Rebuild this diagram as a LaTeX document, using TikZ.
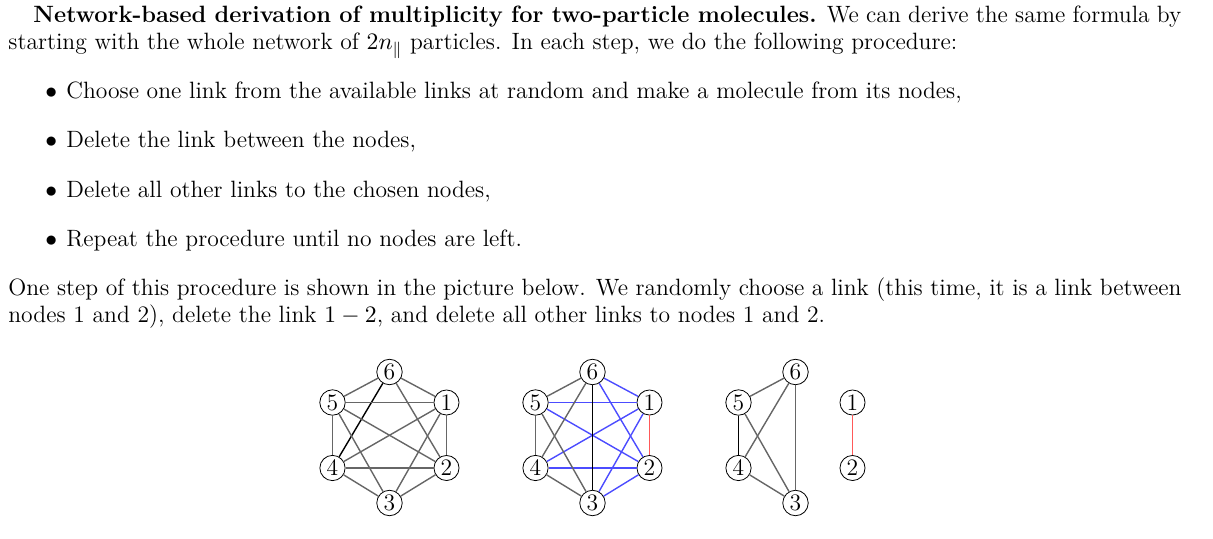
\documentclass[11pt,tikz,border=0pt]{standalone}
\usepackage{fix-cm}
\usepackage{amsmath}
\usepackage{tikz}

\begin{document}
\begin{tikzpicture}[x=0.5pt,y=-0.5pt,font=\fontsize{11.8}{13.5}\selectfont]
\useasboundingbox (0,0) rectangle (1213,539);
% text of the page
\begin{scope}[every node/.style={anchor=base west,inner sep=0pt}]
    \node[text width=586.5pt,align=justify] (intro) at (8,23)
        {\hspace*{12.5pt}\textbf{Network-based derivation of multiplicity for two-particle molecules.} We can derive the same formula by\linebreak starting with the whole network of $2n_{\parallel}$ particles. In each step, we do the following procedure:};
    \node (choose) at (45,99) {\makebox[10.5pt][l]{$\bullet$}Choose one link from the available links at random and make a molecule from its nodes,};
    \node (dellink) at (45,148) {\makebox[10.5pt][l]{$\bullet$}Delete the link between the nodes,};
    \node (delother) at (45,198) {\makebox[10.5pt][l]{$\bullet$}Delete all other links to the chosen nodes,};
    \node (repeat) at (45,247) {\makebox[10.5pt][l]{$\bullet$}Repeat the procedure until no nodes are left.};
    \node[text width=586.5pt,align=justify] (onestep) at (8,295)
        {One step of this procedure is shown in the picture below. We randomly choose a link (this time, it is a link between\linebreak nodes 1 and 2), delete the link $1-2$, and delete all other links to nodes 1 and 2.};
\end{scope}
% the three networks
\begin{scope}[every node/.style={circle,draw,inner sep=1pt,minimum size=10.5pt}]
    \node (a6) at (389.5,372) {6};
    \node (a5) at (332.5,402.5) {5};
    \node (a1) at (446.5,402.5) {1};
    \node (a4) at (332.5,468) {4};
    \node (a2) at (446.5,468) {2};
    \node (a3) at (389.5,503) {3};
    \node (b6) at (592.5,372) {6};
    \node (b5) at (535.5,402.5) {5};
    \node (b1) at (649.5,402.5) {1};
    \node (b4) at (535.5,468) {4};
    \node (b2) at (649.5,468) {2};
    \node (b3) at (592.5,503) {3};
    \node (c6) at (795.5,372) {6};
    \node (c5) at (738.5,402.5) {5};
    \node (c1) at (852.5,402.5) {1};
    \node (c4) at (738.5,468) {4};
    \node (c2) at (852.5,468) {2};
    \node (c3) at (795.5,503) {3};
\end{scope}
\begin{scope}[line width=0.7pt,
              grey_edge/.style={draw=black!60},
              black_edge/.style={draw=black},
              blue_edge/.style={draw=blue!70},
              red_edge/.style={draw=red!65}]
    % whole network
    \path (a6) edge [grey_edge] (a5);
    \path (a6) edge [grey_edge] (a1);
    \path (a6) edge [grey_edge] (a2);
    \path (a6) edge [black_edge] (a4);
    \path (a5) edge [grey_edge] (a1);
    \path (a5) edge [grey_edge] (a4);
    \path (a5) edge [grey_edge] (a2);
    \path (a5) edge [grey_edge] (a3);
    \path (a1) edge [grey_edge] (a2);
    \path (a1) edge [grey_edge] (a4);
    \path (a1) edge [grey_edge] (a3);
    \path (a4) edge [grey_edge] (a2);
    \path (a4) edge [grey_edge] (a3);
    \path (a2) edge [grey_edge] (a3);
    % chosen link and the links to delete
    \path (b1) edge [red_edge] (b2);
    \path (b6) edge [blue_edge] (b1);
    \path (b6) edge [blue_edge] (b2);
    \path (b5) edge [blue_edge] (b1);
    \path (b5) edge [blue_edge] (b2);
    \path (b1) edge [blue_edge] (b4);
    \path (b1) edge [blue_edge] (b3);
    \path (b4) edge [blue_edge] (b2);
    \path (b2) edge [blue_edge] (b3);
    \path (b6) edge [black_edge] (b3);
    \path (b6) edge [grey_edge] (b5);
    \path (b6) edge [grey_edge] (b4);
    \path (b5) edge [grey_edge] (b4);
    \path (b5) edge [grey_edge] (b3);
    \path (b4) edge [grey_edge] (b3);
    % after one step
    \path (c6) edge [grey_edge] (c5);
    \path (c6) edge [grey_edge] (c4);
    \path (c6) edge [grey_edge] (c3);
    \path (c5) edge [black_edge] (c4);
    \path (c5) edge [grey_edge] (c3);
    \path (c4) edge [grey_edge] (c3);
    \path (c1) edge [red_edge] (c2);
\end{scope}
\end{tikzpicture}
\end{document}
